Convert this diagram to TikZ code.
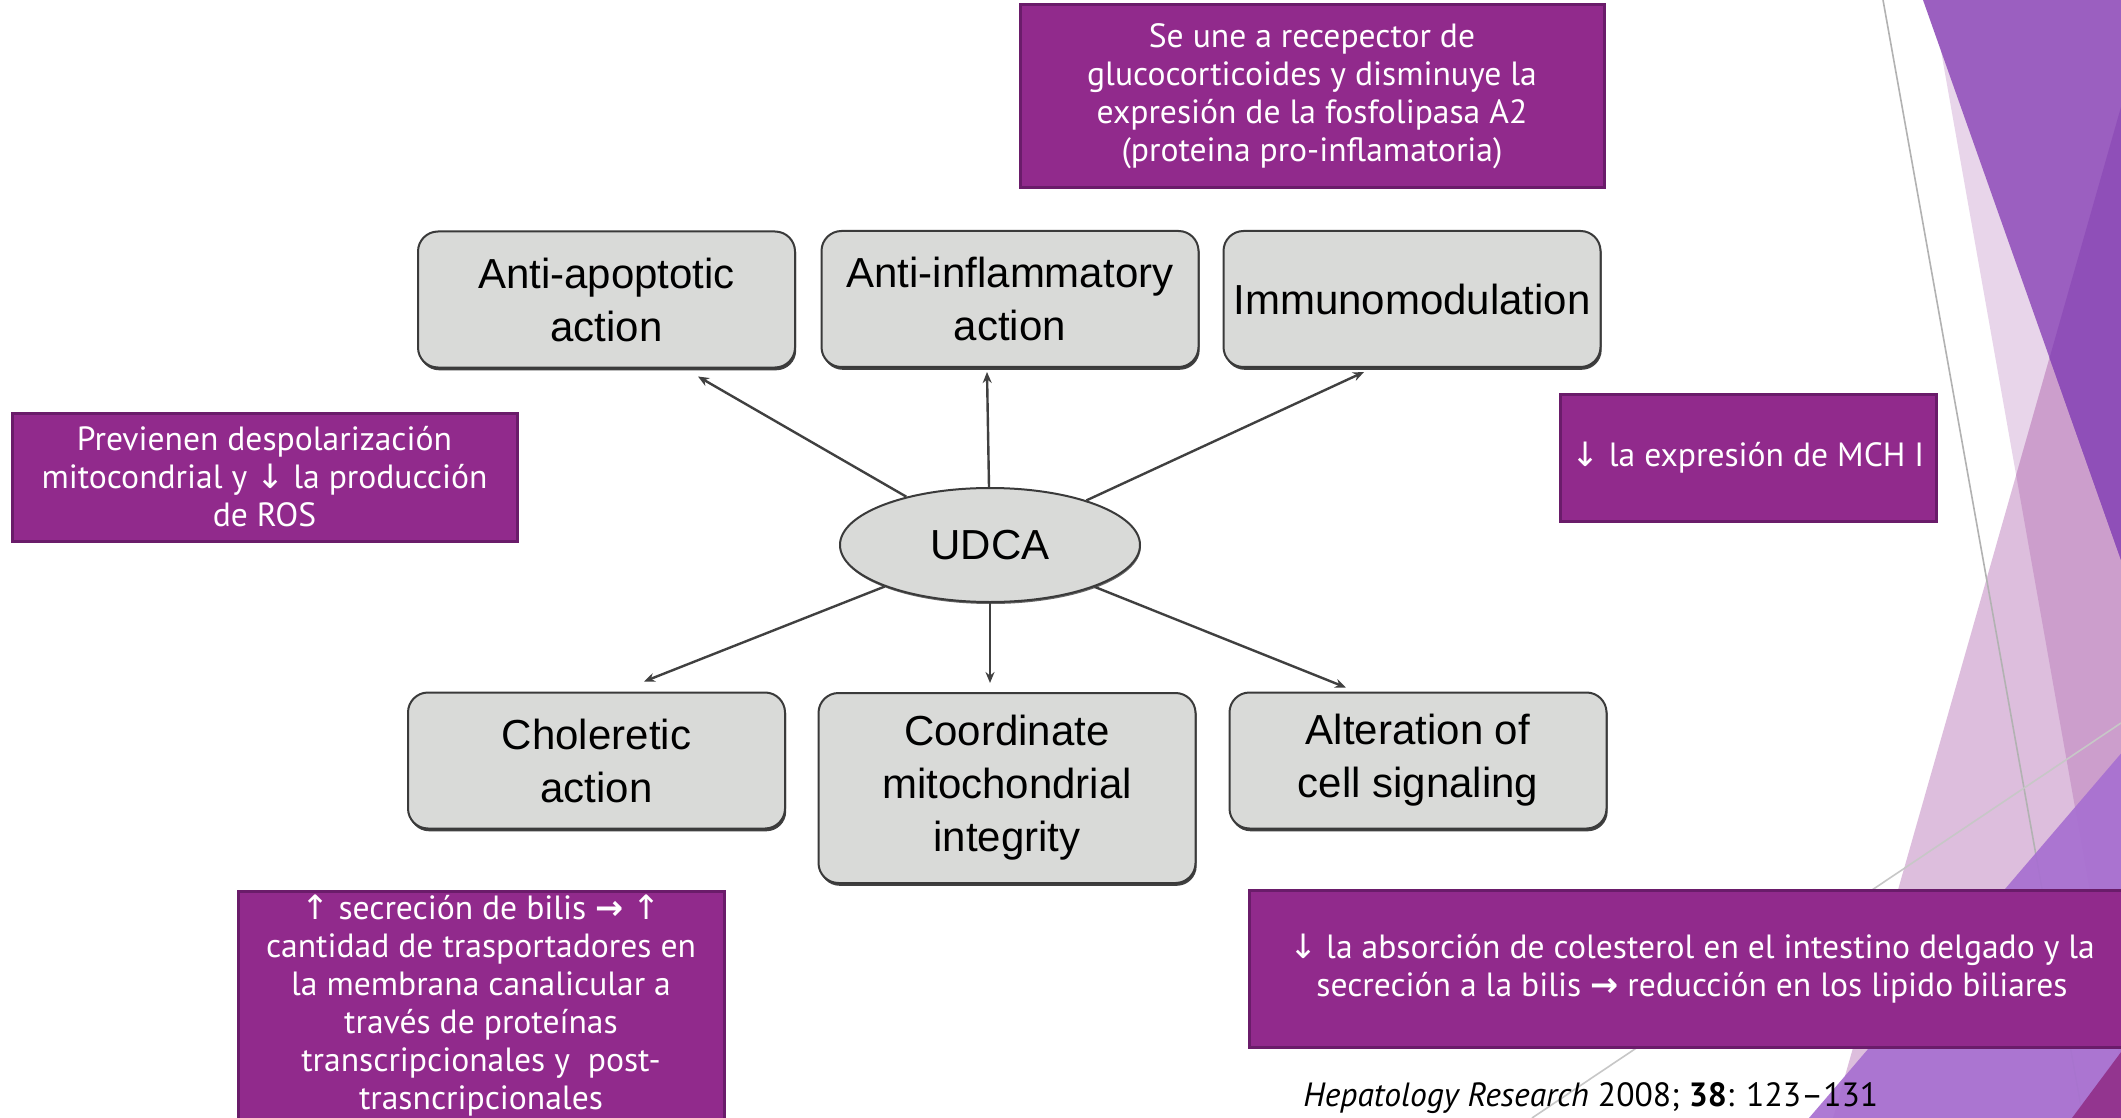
\documentclass[tikz,border=0pt]{standalone}
\usepackage{fontspec}
\setmainfont{PT Sans}
\newfontfamily\boxfont{Liberation Sans}
\newfontfamily\arrowfont{DejaVu Sans}
\usetikzlibrary{arrows.meta,calc,shadows,shapes.geometric}
\definecolor{pbox}{HTML}{912A8C}
\definecolor{pedge}{HTML}{6A1C6A}
\definecolor{gfill}{HTML}{D9DAD8}
\definecolor{gedge}{HTML}{3A3A3A}
\definecolor{tone}{HTML}{9B5FC0}
\definecolor{ttwo}{HTML}{DDBEDD}
\definecolor{tthree}{HTML}{E8D5EA}
\definecolor{ttwothree}{HTML}{CC9ECC}
\definecolor{tonetwo}{HTML}{8F4FB8}
\definecolor{tfour}{HTML}{A870D1}
\definecolor{tfive}{HTML}{93358F}
\newcommand{\myDown}{{\arrowfont ↓}}
\newcommand{\myUp}{{\arrowfont ↑}}
\newcommand{\myRight}{{\arrowfont\bfseries →}}
\begin{document}
\begin{tikzpicture}[x=0.5pt,y=-0.5pt,
  pbox/.style={draw=pedge, line width=1.5pt, fill=pbox, text=white,
    font=\fontsize{16.8}{19}\selectfont, align=center, inner sep=3pt},
  graybox/.style={draw=gedge, line width=1pt, fill=gfill, rounded corners=10pt,
    font=\boxfont\fontsize{21}{26.5}\selectfont, align=center,
    minimum width=188.5pt, minimum height=68pt, inner sep=2pt,
    drop shadow={shadow xshift=0.6pt, shadow yshift=-1.4pt, fill=black!75, opacity=1}},
  conn/.style={draw=black!75, line width=1.2pt, -{Stealth[length=5.5pt,width=4.5pt]}},
  bgline/.style={draw=black!30, line width=0.8pt}
]
\useasboundingbox (0,0) rectangle (2121,1118);
\clip (0,0) rectangle (2121,1118);
\fill[white] (0,0) rectangle (2121,1118);

% background decoration
\fill[tthree] (1932,0) -- (2130,1118) -- (2130,0) -- cycle;
\fill[ttwo] (2121,107) -- (1833,1118) -- (2130,1118) -- (2130,107) -- cycle;
\begin{scope}
  \clip (2121,107) -- (1833,1118) -- (2130,1118) -- (2130,107) -- cycle;
  \fill[ttwothree] (1932,0) -- (2130,1118) -- (2130,0) -- cycle;
\end{scope}
\fill[tone] (1923,0) -- (2130,0) -- (2130,560) -- (2121,560) -- cycle;
\begin{scope}
  \clip (2121,107) -- (1833,1118) -- (2130,1118) -- (2130,107) -- cycle;
  \fill[tonetwo] (1923,0) -- (2130,0) -- (2130,560) -- (2121,560) -- cycle;
\end{scope}
\draw[bgline] (1883,0) -- (2083,1118);
\draw[bgline, draw=black!22] (2121,723) -- (1532,1118);
\fill[tfour, opacity=0.93] (2130,743) -- (1809,1118) -- (2130,1118) -- cycle;
\fill[tfive] (2130,1040) -- (2072,1118) -- (2130,1118) -- cycle;

% diagram
\node[graybox] (apo) at (606.5,299.5) {Anti-apoptotic\\action};
\node[graybox] (inf) at (1010,299) {Anti-inflammatory\\action};
\node[graybox] (imm) at (1412,299) {Immunomodulation};
\node[graybox] (cho) at (596.5,760.5) {Choleretic\\action};
\node[graybox, minimum height=95pt] (mit) at (1007,788) {Coordinate\\mitochondrial\\integrity};
\node[graybox] (alt) at (1418,760.5) {Alteration of\\cell signaling};
\node[ellipse, draw=gedge, line width=1pt, fill=gfill, minimum width=150pt, minimum height=57pt,
  font=\boxfont\fontsize{21}{24}\selectfont,
  drop shadow={shadow xshift=0.4pt, shadow yshift=-1pt, fill=black!60, opacity=1}] (udca) at (990,545) {UDCA};

\coordinate (h1) at ($(apo.south)+(91.5,8)$);
\coordinate (h2) at ($(inf.south)+(-23,4)$);
\coordinate (h3) at ($(imm.south)+(-48,4)$);
\coordinate (h4) at ($(cho.north)+(47.5,-10)$);
\coordinate (h5) at ($(mit.north)+(-17,-9)$);
\coordinate (h6) at ($(alt.north)+(-72,-4)$);
\foreach \h in {h1,h2,h3,h4,h5,h6} \draw[conn] (udca) -- (\h);

% purple notes
\node[pbox, minimum width=292pt, minimum height=91.5pt] (glu) at (1312,96.5)
  {Se une a recepector de\\glucocorticoides y disminuye la\\expresión de la fosfolipasa A2\\(proteina pro-inflamatoria)};
\node[pbox, minimum width=252.5pt, minimum height=64pt] (mito) at (264.5,477)
  {Previenen despolarización\\mitocondrial y \myDown{} la producción\\de ROS};
\node[pbox, minimum width=188pt, minimum height=63.5pt] (mch) at (1748,457.5)
  {\myDown{} la expresión de MCH I};
\node[pbox, minimum width=243pt, anchor=north, inner ysep=1.5pt] (bil) at (481,890)
  {\myUp{} secreción de bilis \myRight{} \myUp\\cantidad de trasportadores en\\la membrana canalicular a\\través de proteínas\\transcripcionales y\ \ post-\\trasncripcionales\\ };
\node[pbox, minimum width=443pt, minimum height=78.5pt] (col) at (1692,968.5)
  {\myDown{} la absorción de colesterol en el intestino delgado y la\\secreción a la bilis \myRight{} reducción en los lipido biliares};
\node[anchor=west, inner sep=0pt, font=\fontsize{16.8}{19}\selectfont] (ref) at (1303,1098)
  {\textit{Hepatology Research} 2008; \textbf{38}: 123–131};
\end{tikzpicture}
\end{document}
